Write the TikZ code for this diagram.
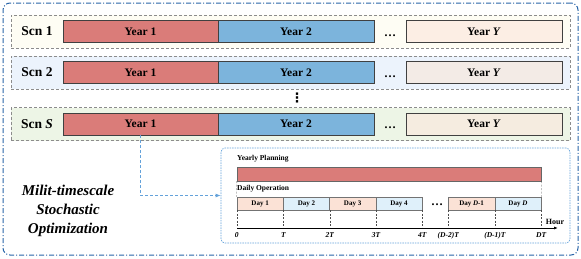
\documentclass[tikz,border=0pt]{standalone}
\usepackage{fontspec}
\setmainfont{Liberation Serif}
\newfontfamily\symfont{DejaVu Sans}
\usetikzlibrary{arrows.meta,calc}
\definecolor{frameblue}{RGB}{40,100,168}
\definecolor{innerblue}{RGB}{100,162,218}
\definecolor{yearred}{RGB}{218,124,121}
\definecolor{yearblue}{RGB}{124,180,220}
\definecolor{rowa}{RGB}{254,253,244}
\definecolor{rowb}{RGB}{236,243,252}
\definecolor{rowc}{RGB}{237,245,230}
\definecolor{yya}{RGB}{252,238,228}
\definecolor{yyb}{RGB}{243,235,230}
\definecolor{yyc}{RGB}{245,236,224}
\definecolor{daypeach}{RGB}{251,226,214}
\definecolor{dayblue}{RGB}{223,240,250}
\begin{document}
\begin{tikzpicture}[x=1pt, y=-1pt,
        frame/.style={draw=frameblue, line width=1pt, dash pattern=on 5pt off 2pt on 1pt off 2pt,
            rounded corners=7pt, minimum width=575pt, minimum height=252pt, inner sep=0pt},
        row/.style={draw=black!45, line width=0.6pt, dash pattern=on 3pt off 2pt, minimum width=559pt, minimum height=33pt, inner sep=0pt},
        scn/.style={font=\fontsize{13.5}{15}\selectfont\bfseries},
        year/.style={draw=black!75, minimum width=155.5pt, minimum height=22pt, inner sep=0pt,
            font=\fontsize{11.5}{13}\selectfont\bfseries},
        dots/.style={font=\fontsize{12}{13}\selectfont\bfseries, inner sep=0pt},
        detailbox/.style={draw=innerblue, line width=0.7pt, dash pattern=on 1.5pt off 1pt, rounded corners=4pt,
            minimum width=349pt, minimum height=95pt, inner sep=0pt},
        label/.style={font=\fontsize{7.5}{9}\selectfont\bfseries, inner sep=0pt},
        plan/.style={draw=black!60, fill=yearred, minimum width=304pt, minimum height=14pt, inner sep=0pt},
        day/.style={draw=black!55, minimum width=46.25pt, minimum height=13pt, inner sep=0pt,
            font=\fontsize{7}{8}\selectfont\bfseries},
        guide/.style={draw=black!70, thin, dash pattern=on 2pt off 1.5pt},
        tick/.style={font=\fontsize{7.5}{9}\selectfont\bfseries\itshape, anchor=north, inner sep=0pt},
        axis/.style={-{Latex[length=4pt,width=3pt]}, line width=0.9pt},
        link/.style={draw=innerblue, line width=0.9pt, dash pattern=on 3pt off 2pt, -{Latex[length=5pt,width=4pt]}},
        title/.style={align=center, font=\fontsize{15}{19}\selectfont\bfseries\itshape}
    ]
        \useasboundingbox (0,0) rectangle (581,258);
        \node[frame] (frame) at (290.5,129) {};
        % scenarios
        \foreach \r/\yc/\lab/\bg/\yy in {1/31.5/1/rowa/yya, 2/72.5/2/rowb/yyb, S/124/\textit{S}/rowc/yyc} {
            \node[row, fill=\bg] (row\r) at (290.5,\yc) {};
            \node[scn] (scn\r) at (37,\yc) {Scn \lab};
            \node[year, fill=yearred] (year\r-1) at (140.5,\yc) {Year 1};
            \node[year, fill=yearblue] (year\r-2) at (296,\yc) {Year 2};
            \node[year, fill=\yy] (year\r-y) at (484,\yc) {Year \textit{Y}};
            \node[dots] (dots\r) at (390,\yc+4) {\dots};
        }
        \node[font=\fontsize{13}{14}\selectfont\symfont\bfseries, inner sep=0pt] (vdots) at (297,98) {⋮};
        \node[title] (title) at (68,211) {Milit-timescale\\Stochastic\\Optimization};
        % one year in detail
        \node[detailbox] (detail) at (395.5,195.5) {};
        \draw[link] (yearS-1.south) |- (detail.west);
        \node[label, anchor=west] (plantxt) at (237,159) {Yearly Planning};
        \node[plan] (plan) at (389,174) {};
        \node[label, anchor=west] (optxt) at (237,189) {Daily Operation};
        \foreach \i/\xc/\txt/\c in {1/260.1/{Day 1}/daypeach, 2/306.4/{Day 2}/dayblue,
                3/352.6/{Day 3}/daypeach, 4/398.9/{Day 4}/dayblue,
                5/471.6/{Day \textit{D}-1}/daypeach, 6/517.9/{Day \textit{D}}/dayblue} {
            \node[day, fill=\c] (day\i) at (\xc,203.5) {\txt};
        }
        \node[dots] (daydots) at (437,205) {\dots};
        \coordinate (origin) at (237,228);
        \coordinate (axisend) at (558,228);
        \draw[guide] (plan.south west) -- (day1.north west);
        \draw[guide] (plan.south east) -- (day6.north east);
        \foreach \a/\t in {day1.south west/0, day1.south east/T, day2.south east/2T, day3.south east/3T,
                day4.south east/4T, day5.south west/(D-2)T, day5.south east/(D-1)T, day6.south east/DT} {
            \draw[guide] (\a) -- (\a |- origin);
            \node[tick] at ($(\a |- origin)+(0,4)$) {\t};
        }
        \draw[axis] (origin) -- (axisend);
        \node[label, font=\fontsize{8}{9}\selectfont\bfseries, anchor=south] (hour) at ($(axisend)+(-3,-3)$) {Hour};
    \end{tikzpicture}
\end{document}
